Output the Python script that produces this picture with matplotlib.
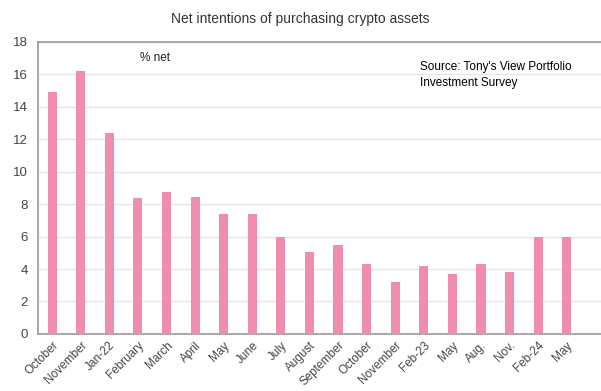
import matplotlib
matplotlib.use("Agg")
import matplotlib.pyplot as plt
import numpy as np

categories = ["October", "November", "Jan-22", "February", "March", "April", "May",
              "June", "July", "August", "September", "October", "November", "Feb-23",
              "May", "Aug.", "Nov.", "Feb-24", "May"]
values = [14.9, 16.2, 12.4, 8.35, 8.75, 8.45, 7.4, 7.4, 5.95, 5.05, 5.45, 4.3, 3.2,
          4.2, 3.7, 4.3, 3.8, 5.95, 6.0]
yticks = [0, 2, 4, 6, 8, 10, 12, 14, 16, 18]

plt.rcParams['font.family'] = ['Liberation Sans', 'DejaVu Sans']

fig = plt.figure(figsize=(6.01, 3.91), dpi=100)
ax = fig.add_axes([0.063, 0.146, 0.937, 0.747])

x = np.arange(len(categories))
ax.bar(x, values, width=0.32, color="#F08CAF", zorder=3)

ax.set_ylim(0, 18)
ax.set_xlim(-0.5, 19.2)
ax.set_yticks(yticks)
ax.yaxis.grid(True, color="#E6E6E6", linewidth=1, zorder=0)
ax.set_xticks(x)
ax.set_xticklabels(categories, rotation=45, ha="right", rotation_mode="anchor",
                   fontsize=8.5, color="#444444")
ax.tick_params(axis="y", labelsize=9.5, colors="#444444", length=0, pad=7)
ax.tick_params(axis="x", length=0, pad=4)

for s in ["left", "bottom", "top"]:
    ax.spines[s].set_color("#999999")
    ax.spines[s].set_linewidth(1.2)
ax.spines["right"].set_visible(False)

fig.text(0.5, 0.952, "Net intentions of purchasing crypto assets", ha="center",
         va="center", fontsize=10, color="#333333")
ax.text(0.208, 0.945, "% net", transform=ax.transAxes, ha="center", va="center",
        fontsize=8.5, color="#222222")
ax.text(0.678, 0.887, "Source: Tony's View Portfolio\nInvestment Survey",
        transform=ax.transAxes, ha="left", va="center", fontsize=8.5,
        color="#000000", linespacing=1.45)

fig.savefig("out.png", dpi=100)
